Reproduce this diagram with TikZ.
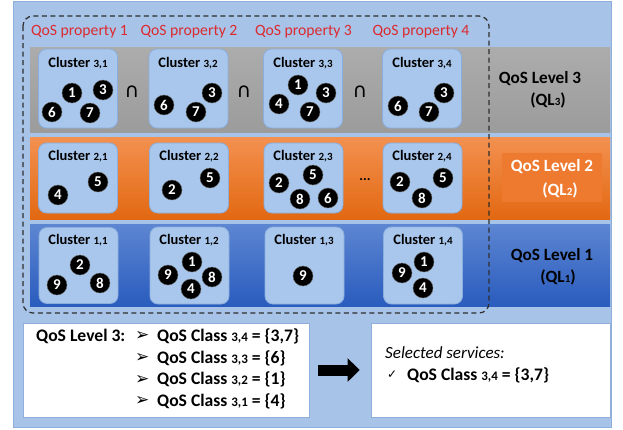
\documentclass[tikz,border=0pt]{standalone}
\usepackage{fontspec}
\setmainfont{Carlito}
\newfontfamily\djv{DejaVu Sans}
\usetikzlibrary{arrows.meta}
\definecolor{bgblue}{HTML}{A7C3E8}
\definecolor{bgborder}{HTML}{8EAFDC}
\definecolor{clfill}{HTML}{A9C7EC}
\definecolor{clborder}{HTML}{8AAEDD}
\definecolor{propred}{HTML}{DC2A2E}
\definecolor{dashc}{HTML}{2E2E2E}
\definecolor{ortop}{RGB}{243,145,80}
\definecolor{orbot}{RGB}{226,104,18}
\definecolor{orlbl}{RGB}{238,122,48}
\definecolor{bltop}{RGB}{93,134,210}
\definecolor{blbot}{RGB}{42,92,190}
\newcommand\subx[1]{{\fontsize{11}{12}\selectfont #1}}
\newcommand\subb[1]{{\fontsize{13}{14}\selectfont #1}}
\begin{document}
\begin{tikzpicture}[x=1pt,y=-1pt,
  cluster/.style={draw=clborder, fill=clfill, rounded corners=8pt, minimum width=79pt, inner sep=0pt, line width=0.8pt},
  ctitle/.style={font=\bfseries\fontsize{14.5}{16}\selectfont, inner sep=0pt},
  ball/.style={circle, fill=black, draw=black!60, line width=0.4pt, text=white, minimum size=20pt, inner sep=0pt, font=\bfseries\fontsize{15}{15}\selectfont},
  prop/.style={text=propred, font=\fontsize{15.7}{17}\selectfont, inner sep=0pt},
  lvl/.style={font=\bfseries\fontsize{17.2}{19}\selectfont, inner sep=0pt},
  capsym/.style={font=\djv\fontsize{20}{20}\selectfont, inner sep=0pt},
  wbox/.style={draw=bgborder, fill=white, line width=0.8pt, inner sep=0pt},
  btxt/.style={font=\bfseries\fontsize{17.6}{19}\selectfont, inner sep=0pt, anchor=west},
  bul/.style={font=\djv\fontsize{17}{17}\selectfont, inner sep=0pt, anchor=west},
  chk/.style={font=\djv\fontsize{12}{14}\selectfont, inner sep=0pt, anchor=west}
]
\useasboundingbox (0,0) rectangle (623,429);
% background
\fill[white] (0,0) rectangle (623,429);
\draw[fill=bgblue, draw=bgborder, line width=0.8pt] (13,1) rectangle (611,427);
% bands
\shade[top color=gray!65, bottom color=gray!78] (30,47) rectangle (610,132);
\shade[top color=ortop, bottom color=orbot] (30,137) rectangle (610,219);
\shade[top color=bltop, bottom color=blbot] (30,224) rectangle (610,306);
\fill[orlbl] (502,153) rectangle (602,202);
% property labels
\node[prop] (p1) at (79.5,32) {QoS property 1};
\node[prop] (p2) at (189,32) {QoS property 2};
\node[prop] (p3) at (303.5,32) {QoS property 3};
\node[prop] (p4) at (421,32) {QoS property 4};
% clusters
\foreach \nm/\x/\y/\h in {c31/78/88.5/79, c32/188.5/88.5/79, c33/303/88.5/79, c34/422/88.5/79,
                         c21/78/178/70, c22/189/178/70, c23/303.5/178/70, c24/422.5/178/70,
                         c11/78.5/265.5/76, c12/189.5/265.5/77, c13/304.5/265.5/77, c14/423/265.5/77}
  \node[cluster, minimum height=\h pt] (\nm) at (\x,\y) {};
% titles
\node[ctitle] (t31) at (78,63) {Cluster \subx{3,1}};
\node[ctitle] (t32) at (188,63) {Cluster \subx{3,2}};
\node[ctitle] (t33) at (303,63) {Cluster \subx{3,3}};
\node[ctitle] (t34) at (422,63) {Cluster \subx{3,4}};
\node[ctitle] (t21) at (78,156) {Cluster \subx{2,1}};
\node[ctitle] (t22) at (189,156) {Cluster \subx{2,2}};
\node[ctitle] (t23) at (303,156) {Cluster \subx{2,3}};
\node[ctitle] (t24) at (422,156) {Cluster \subx{2,4}};
\node[ctitle] (t11) at (78,240) {Cluster \subx{1,1}};
\node[ctitle] (t12) at (189,240) {Cluster \subx{1,2}};
\node[ctitle] (t13) at (304,240) {Cluster \subx{1,3}};
\node[ctitle] (t14) at (423,240) {Cluster \subx{1,4}};
% balls
\foreach \nm/\x/\y/\t in {
  a1/52/112/6, a2/72/93/1, a3/103/90/3, a4/90/113/7,
  b1/164/105/6, b2/212/93/3, b3/196/112/7,
  c1/298/85/1, c2/279/104/4, c3/326/93/3, c4/310/112/7,
  d1/398/106/6, d2/444/93/3, d3/429/112/7,
  e1/58/195/4, e2/98/182/5,
  f1/172/190/2, f2/210/178/5,
  g1/279/183/2, g2/313/175/5, g3/300/199/8, g4/328/198/6,
  h1/400/182/2, h2/443/178/5, h3/422/198/8,
  i1/80/265/2, i2/57/285/9, i3/100/283/8,
  j1/192/262/1, j2/168/275/9, j3/212/277/8, j4/191/289/4,
  k1/303/276/9,
  l1/424/262/1, l2/402/273/9, l3/423/288/4}
  \node[ball] (\nm) at (\x,\y) {\t};
% intersections and dots
\node[capsym] (i12) at (132,92) {∩};
\node[capsym] (i23) at (244,92) {∩};
\node[capsym] (i34) at (360,92) {∩};
\node[font=\bfseries\fontsize{14}{14}\selectfont, inner sep=0pt] (dots) at (365,180) {...};
% level labels
\node[lvl] (L3a) at (540,79) {QoS Level 3};
\node[lvl] (L3b) at (548,100) {(QL\subx{3})};
\node[lvl, text=white] (L2a) at (552,167) {QoS Level 2};
\node[lvl, text=white] (L2b) at (560,190) {(QL\subx{2})};
\node[lvl] (L1a) at (552,256) {QoS Level 1};
\node[lvl] (L1b) at (558,277) {(QL\subx{1})};
% dashed frame
\draw[dashc, line width=1.2pt, dash pattern=on 5pt off 3.5pt, rounded corners=10pt] (23,16) rectangle (489,313);
% bottom boxes
\node[wbox, minimum width=286pt, minimum height=94pt] (lbox) at (166,370) {};
\node[wbox, minimum width=239pt, minimum height=94pt] (rbox) at (490.5,370) {};
\node[btxt] (lq) at (36,336) {QoS Level 3:};
\node[bul] (u1) at (135,336) {➢};
\node[bul] (u2) at (135,358) {➢};
\node[bul] (u3) at (135,379.5) {➢};
\node[bul] (u4) at (135,401) {➢};
\node[btxt] (q1) at (157,336) {QoS Class \subb{3,4} = \{3,7\}};
\node[btxt] (q2) at (157,358) {QoS Class \subb{3,3} = \{6\}};
\node[btxt] (q3) at (157,379.5) {QoS Class \subb{3,2} = \{1\}};
\node[btxt] (q4) at (157,401) {QoS Class \subb{3,1} = \{4\}};
\node[font=\itshape\fontsize{17}{19}\selectfont, inner sep=0pt, anchor=west] (sel) at (385,353) {Selected services:};
\node[chk] (ck) at (387,375) {✓};
\node[btxt] (sq) at (407,375) {QoS Class \subb{3,4} = \{3,7\}};
\draw[line width=11pt, -{Triangle[length=12pt, width=23pt]}] ([xshift=9pt]lbox.east) -- ([xshift=-11pt]rbox.west);
\end{tikzpicture}
\end{document}
